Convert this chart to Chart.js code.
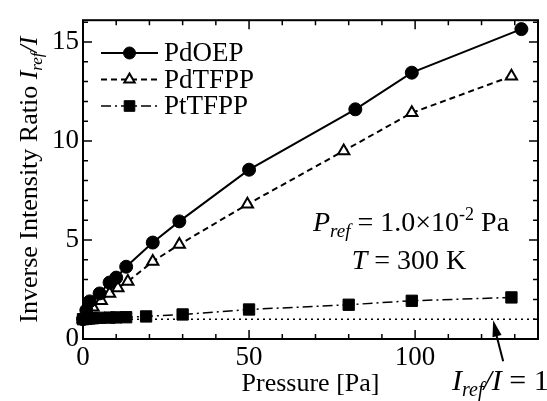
<!DOCTYPE html>
<html>
<head>
<meta charset="utf-8">
<script src="https://cdn.jsdelivr.net/npm/chart.js@4.4.1/dist/chart.umd.min.js"></script>
<style>
  html, body { margin: 0; padding: 0; background: #fff; }
  canvas { display: block; }
</style>
</head>
<body>
<canvas id="chart" width="547" height="401"></canvas>
<script>
// data
const seriesNames = ["PdOEP", "PdTFPP", "PtTFPP"];

const pdoepX = [0, 1, 2, 5, 8, 10, 13, 21, 29, 50, 82, 99, 132];
const pdoepY = [1.0, 1.45, 1.9, 2.3, 2.85, 3.1, 3.65, 4.87, 5.94, 8.55, 11.6, 13.45, 15.65];

const pdtfppX = [0, 1, 3, 5.5, 8, 10.5, 13.5, 21, 29, 49.5, 78.5, 99, 129];
const pdtfppY = [1.0, 1.3, 1.6, 1.93, 2.3, 2.58, 2.9, 3.91, 4.77, 6.8, 9.5, 11.42, 13.27];

const pttfppX = [0, 1, 2, 3, 5, 8, 10, 13, 19, 30, 50, 80, 99, 129];
const pttfppY = [1.0, 1.02, 1.04, 1.05, 1.07, 1.08, 1.09, 1.1, 1.14, 1.24, 1.49, 1.73, 1.93, 2.1];

// Iref/I = 1 reference line
const refX = [0, 137];
const refY = [1, 1];

const xTicks = [0, 50, 100];
const yTicks = [0, 5, 10, 15];
const xMax = 137;
const yMax = 16.1;

const serif = '"Liberation Serif", "Times New Roman", serif';

function pts(xs, ys) {
  return xs.map((x, i) => ({ x: x, y: ys[i] }));
}

// draw a run of text pieces (for italics / subscripts)
function richText(ctx, parts, x, y, align) {
  let w = 0;
  parts.forEach(p => { ctx.font = p.font; w += ctx.measureText(p.t).width; });
  let cx = align === "center" ? x - w / 2 : x;
  ctx.textAlign = "left";
  ctx.textBaseline = "alphabetic";
  parts.forEach(p => {
    ctx.font = p.font;
    ctx.fillText(p.t, cx, y + (p.dy || 0));
    cx += ctx.measureText(p.t).width;
  });
}

const FT = "26px " + serif;
const FTI = "italic 26px " + serif;
const FTS = "italic 17px " + serif;
const F = "28px " + serif;
const FI = "italic 28px " + serif;
const FS = "italic 19px " + serif;

const decorations = {
  id: "decorations",
  afterDraw(chart) {
    const ctx = chart.ctx;
    const a = chart.chartArea;
    const xs = chart.scales.x, ys = chart.scales.y;
    ctx.save();
    ctx.strokeStyle = "#000";
    ctx.fillStyle = "#000";

    // frame
    ctx.lineWidth = 2;
    ctx.strokeRect(a.left, a.top, a.right - a.left, a.bottom - a.top);

    // inward ticks on all four sides
    ctx.lineWidth = 1.5;
    ctx.beginPath();
    for (let v = 0; v <= xMax; v += 10) {
      const px = xs.getPixelForValue(v);
      const len = v % 50 === 0 ? 9 : 5;
      ctx.moveTo(px, a.bottom); ctx.lineTo(px, a.bottom - len);
      ctx.moveTo(px, a.top); ctx.lineTo(px, a.top + len);
    }
    for (let v = 0; v <= yMax; v += 1) {
      const py = ys.getPixelForValue(v);
      const len = v % 5 === 0 ? 9 : 5;
      ctx.moveTo(a.left, py); ctx.lineTo(a.left + len, py);
      ctx.moveTo(a.right, py); ctx.lineTo(a.right - len, py);
    }
    ctx.stroke();

    // y axis title, rotated
    ctx.save();
    ctx.translate(28, (a.top + a.bottom) / 2);
    ctx.rotate(-Math.PI / 2);
    richText(ctx, [
      { t: "Inverse Intensity Ratio ", font: FT },
      { t: "I", font: FTI },
      { t: "ref", font: FTS, dy: 5 },
      { t: "/I", font: FTI }
    ], 0, 9, "center");
    ctx.restore();

    // legend
    chart.data.datasets.slice(0, 3).forEach((ds, i) => {
      const y = 53 + i * 26.5;
      ctx.save();
      ctx.strokeStyle = "#000";
      ctx.lineWidth = ds.borderWidth;
      ctx.setLineDash(ds.borderDash || []);
      ctx.beginPath();
      ctx.moveTo(101, y); ctx.lineTo(158, y);
      ctx.stroke();
      ctx.setLineDash([]);
      ctx.fillStyle = ds.pointBackgroundColor;
      ctx.lineWidth = ds.pointBorderWidth;
      Chart.helpers.drawPoint(ctx, {
        pointStyle: ds.pointStyle, radius: ds.pointRadius - 0.5,
        borderWidth: ds.pointBorderWidth, rotation: 0
      }, 129.5, y);
      ctx.restore();
      ctx.font = "27px " + serif;
      ctx.textAlign = "left";
      ctx.textBaseline = "middle";
      ctx.fillText(ds.label, 164, y + 1);
    });

    // annotations
    richText(ctx, [
      { t: "P", font: FI },
      { t: "ref", font: FS, dy: 6 },
      { t: " = 1.0\u00d710", font: F },
      { t: "-2", font: "18px " + serif, dy: -11 },
      { t: " Pa", font: F }
    ], 313, 231, "left");
    richText(ctx, [
      { t: "T", font: FI },
      { t: " = 300 K", font: F }
    ], 409, 269, "center");
    richText(ctx, [
      { t: "I", font: "italic 30px " + serif },
      { t: "ref", font: "italic 20px " + serif, dy: 6 },
      { t: "/I", font: "italic 30px " + serif },
      { t: " = 1", font: "30px " + serif }
    ], 452, 390, "left");

    // arrow pointing at the Iref/I = 1 line
    const tipX = xs.getPixelForValue(123.5);
    const tipY = ys.getPixelForValue(1) + 1;
    const baseX = tipX + 10, baseY = tipY + 41;
    ctx.lineWidth = 2;
    ctx.beginPath();
    ctx.moveTo(baseX, baseY); ctx.lineTo(tipX + 2, tipY + 10);
    ctx.stroke();
    const ang = Math.atan2(tipY - baseY, tipX - baseX);
    ctx.beginPath();
    ctx.moveTo(tipX, tipY);
    ctx.lineTo(tipX - 17 * Math.cos(ang - 0.28), tipY - 17 * Math.sin(ang - 0.28));
    ctx.lineTo(tipX - 17 * Math.cos(ang + 0.28), tipY - 17 * Math.sin(ang + 0.28));
    ctx.closePath();
    ctx.fill();

    ctx.restore();
  }
};

const ctx = document.getElementById("chart").getContext("2d");

new Chart(ctx, {
  type: "line",
  data: {
    datasets: [
      {
        label: seriesNames[0],
        data: pts(pdoepX, pdoepY),
        borderColor: "#000",
        backgroundColor: "#000",
        borderWidth: 2,
        pointStyle: "circle",
        pointRadius: 6.5,
        pointBackgroundColor: "#000",
        pointBorderColor: "#000",
        pointBorderWidth: 1
      },
      {
        label: seriesNames[1],
        data: pts(pdtfppX, pdtfppY),
        borderColor: "#000",
        backgroundColor: "#fff",
        borderWidth: 2,
        borderDash: [6, 4],
        pointStyle: "triangle",
        pointRadius: 6.5,
        pointBackgroundColor: "#fff",
        pointBorderColor: "#000",
        pointBorderWidth: 2
      },
      {
        label: seriesNames[2],
        data: pts(pttfppX, pttfppY),
        borderColor: "#000",
        backgroundColor: "#000",
        borderWidth: 1.5,
        borderDash: [10, 4, 2, 4],
        pointStyle: "rect",
        pointRadius: 8,
        pointBackgroundColor: "#000",
        pointBorderColor: "#000",
        pointBorderWidth: 1
      },
      {
        label: "ref",
        data: pts(refX, refY),
        borderColor: "#000",
        borderWidth: 1.5,
        borderDash: [2, 4],
        pointRadius: 0
      }
    ]
  },
  options: {
    responsive: false,
    animation: false,
    devicePixelRatio: 1,
    clip: false,
    layout: { padding: { top: 13, right: 8, left: 0, bottom: 0 } },
    plugins: {
      legend: { display: false },
      tooltip: { enabled: false }
    },
    scales: {
      x: {
        type: "linear",
        min: 0,
        max: xMax,
        grid: { display: false, drawTicks: false },
        border: { display: false },
        afterBuildTicks: s => { s.ticks = xTicks.map(v => ({ value: v })); },
        afterFit: s => { s.height = 62; },
        ticks: {
          color: "#000",
          font: { family: serif, size: 27 },
          padding: 3,
          maxRotation: 0
        },
        title: {
          display: true,
          text: "Pressure [Pa]",
          color: "#000",
          font: { family: serif, size: 26 },
          padding: { top: 0, bottom: 1 }
        }
      },
      y: {
        min: 0,
        max: yMax,
        grid: { display: false, drawTicks: false },
        border: { display: false },
        afterBuildTicks: s => { s.ticks = yTicks.map(v => ({ value: v })); },
        afterFit: s => { s.width = 83; },
        ticks: {
          color: "#000",
          font: { family: serif, size: 27 },
          padding: 4
        }
      }
    }
  },
  plugins: [decorations]
});
</script>
</body>
</html>
